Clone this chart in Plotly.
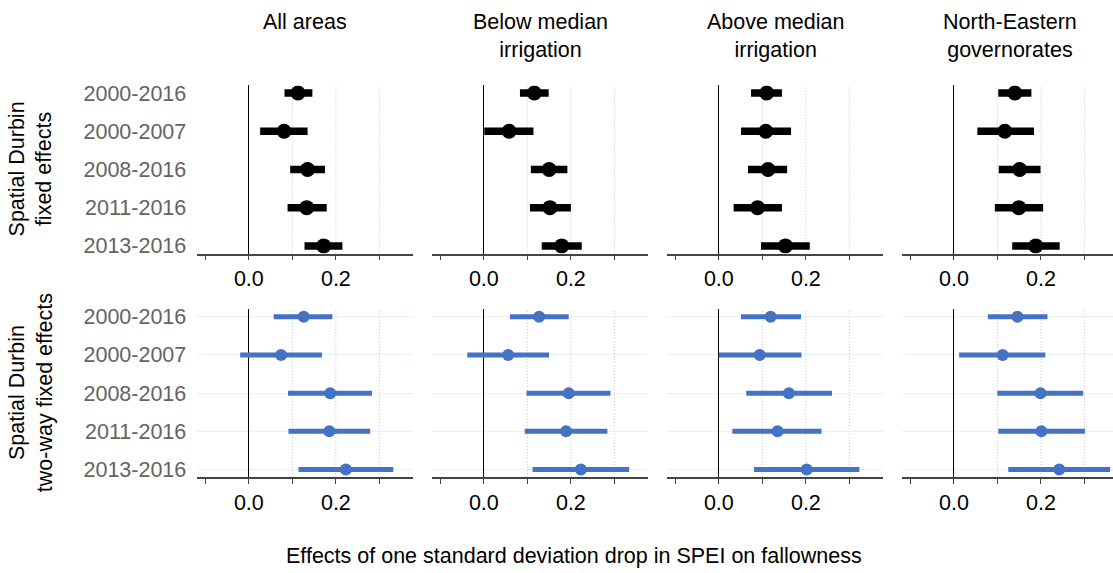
import plotly.graph_objects as go

periods = ["2000-2016", "2000-2007", "2008-2016", "2011-2016", "2013-2016"]
areas = ["All areas", "Below median<br>irrigation", "Above median<br>irrigation", "North-Eastern<br>governorates"]
models = ["Spatial Durbin<br>fixed effects", "Spatial Durbin<br>two-way fixed effects"]
x_title = "Effects of one standard deviation drop in SPEI on fallowness"
tick_vals = [-0.1, 0.0, 0.1, 0.2, 0.3]
tick_text = ["", "0.0", "", "0.2", ""]
grid_vals = [0.1, 0.2, 0.3]

# Spatial Durbin fixed effects (top row)
fe_all_est = [0.113, 0.081, 0.135, 0.133, 0.172]
fe_all_lo = [0.082, 0.026, 0.095, 0.089, 0.128]
fe_all_hi = [0.146, 0.135, 0.175, 0.179, 0.215]

fe_below_est = [0.116, 0.058, 0.150, 0.152, 0.179]
fe_below_lo = [0.083, 0.001, 0.108, 0.106, 0.133]
fe_below_hi = [0.149, 0.114, 0.192, 0.200, 0.225]

fe_above_est = [0.110, 0.108, 0.113, 0.089, 0.153]
fe_above_lo = [0.074, 0.051, 0.067, 0.034, 0.097]
fe_above_hi = [0.145, 0.166, 0.157, 0.145, 0.209]

fe_ne_est = [0.140, 0.117, 0.151, 0.149, 0.188]
fe_ne_lo = [0.102, 0.054, 0.103, 0.094, 0.134]
fe_ne_hi = [0.178, 0.184, 0.199, 0.205, 0.243]

# Spatial Durbin two-way fixed effects (bottom row)
tw_all_est = [0.126, 0.074, 0.187, 0.185, 0.223]
tw_all_lo = [0.057, -0.020, 0.090, 0.091, 0.114]
tw_all_hi = [0.192, 0.168, 0.283, 0.279, 0.332]

tw_below_est = [0.127, 0.056, 0.195, 0.189, 0.223]
tw_below_lo = [0.060, -0.038, 0.098, 0.094, 0.112]
tw_below_hi = [0.195, 0.150, 0.291, 0.284, 0.334]

tw_above_est = [0.119, 0.094, 0.161, 0.135, 0.202]
tw_above_lo = [0.051, 0.000, 0.063, 0.031, 0.081]
tw_above_hi = [0.189, 0.190, 0.260, 0.236, 0.323]

tw_ne_est = [0.146, 0.112, 0.199, 0.201, 0.242]
tw_ne_lo = [0.078, 0.012, 0.100, 0.102, 0.125]
tw_ne_hi = [0.215, 0.210, 0.297, 0.301, 0.359]

rows_data = [
    [(fe_all_est, fe_all_lo, fe_all_hi), (fe_below_est, fe_below_lo, fe_below_hi),
     (fe_above_est, fe_above_lo, fe_above_hi), (fe_ne_est, fe_ne_lo, fe_ne_hi)],
    [(tw_all_est, tw_all_lo, tw_all_hi), (tw_below_est, tw_below_lo, tw_below_hi),
     (tw_above_est, tw_above_lo, tw_above_hi), (tw_ne_est, tw_ne_lo, tw_ne_hi)],
]

W, H = 1113, 573
FONT = "Liberation Sans, Arial, Helvetica, sans-serif"
FS = 21.5
row_colors = ["#000000", "#4472C4"]
bar_w = [7.5, 5]
mk_size = [15, 12]

col_px = [(197.3, 413.3), (432.3, 648.3), (667.3, 883.3), (902.3, 1113.0)]
row_px = [(82.7, 253.5), (310.0, 480.7)]
x_ranges = [[-0.1185, 0.378]] * 3 + [[-0.1185, 0.3655]]

fig = go.Figure()
layout = dict(
    width=W, height=H,
    margin=dict(l=0, r=0, t=0, b=0),
    paper_bgcolor="white", plot_bgcolor="white",
    showlegend=False,
    font=dict(family=FONT, size=FS, color="black"),
)
shapes = []
annotations = []

for r in range(2):
    for c in range(4):
        k = r * 4 + c + 1
        sfx = "" if k == 1 else str(k)
        est, lo, hi = rows_data[r][c]
        plus = [h - e for h, e in zip(hi, est)]
        minus = [e - l for e, l in zip(est, lo)]
        fig.add_trace(go.Scatter(
            x=est, y=periods, mode="markers",
            marker=dict(size=mk_size[r], color=row_colors[r]),
            error_x=dict(type="data", symmetric=False, array=plus, arrayminus=minus,
                         color=row_colors[r], thickness=bar_w[r], width=0),
            xaxis="x" + sfx, yaxis="y" + sfx, hoverinfo="x+y",
        ))
        x0, x1 = col_px[c]
        y0, y1 = row_px[r]
        layout["xaxis" + sfx] = dict(
            domain=[x0 / W, x1 / W], anchor="y" + sfx, range=x_ranges[c],
            tickvals=tick_vals, ticktext=tick_text, ticks="outside", ticklen=5,
            tickwidth=1.2, tickcolor="#444444", showline=True, linecolor="#444444",
            linewidth=1.5, showgrid=False, zeroline=True, zerolinecolor="black",
            zerolinewidth=1.3, tickfont=dict(size=FS, color="black"),
            fixedrange=True,
        )
        layout["yaxis" + sfx] = dict(
            domain=[1 - y1 / H, 1 - y0 / H], anchor="x" + sfx, type="category",
            categoryorder="array", categoryarray=periods, range=[4.2, -0.2],
            showline=False, ticks="", showticklabels=(c == 0),
            ticklabelstandoff=10,
            showgrid=(r == 1), gridcolor="#ebf1f1", gridwidth=1.2,
            zeroline=False, tickfont=dict(size=FS, color="#646464"),
            fixedrange=True,
        )
        for g in grid_vals:
            shapes.append(dict(
                type="line", xref="x" + sfx, yref="y" + sfx + " domain",
                x0=g, x1=g, y0=0, y1=1, layer="below",
                line=dict(color="#c4c4c4", width=1, dash="1px,2px"),
            ))

for c in range(4):
    x0, x1 = col_px[c]
    cx = (x0 + x1) / 2 if c < 3 else (x0 + x0 + 216.0) / 2
    annotations.append(dict(
        text=areas[c], x=cx / W, y=1 - 4.5 / H, xref="paper", yref="paper",
        xanchor="center", yanchor="top", showarrow=False,
        font=dict(size=FS, color="black"),
    ))

for r in range(2):
    y0, y1 = row_px[r]
    annotations.append(dict(
        text=models[r], x=31 / W, y=1 - ((y0 + y1) / 2) / H, xref="paper", yref="paper",
        xanchor="center", yanchor="middle", showarrow=False, textangle=-90,
        font=dict(size=FS, color="black"),
    ))

annotations.append(dict(
    text=x_title, x=574.5 / W, y=1 - 561 / H, xref="paper", yref="paper",
    xanchor="center", yanchor="middle", showarrow=False,
    font=dict(size=FS, color="black"),
))

layout["shapes"] = shapes
layout["annotations"] = annotations
fig.update_layout(**layout)
fig.write_html(
    "out.html",
    config={"displayModeBar": False},
    post_script="document.body.style.margin='0';document.body.style.overflow='hidden';",
)
